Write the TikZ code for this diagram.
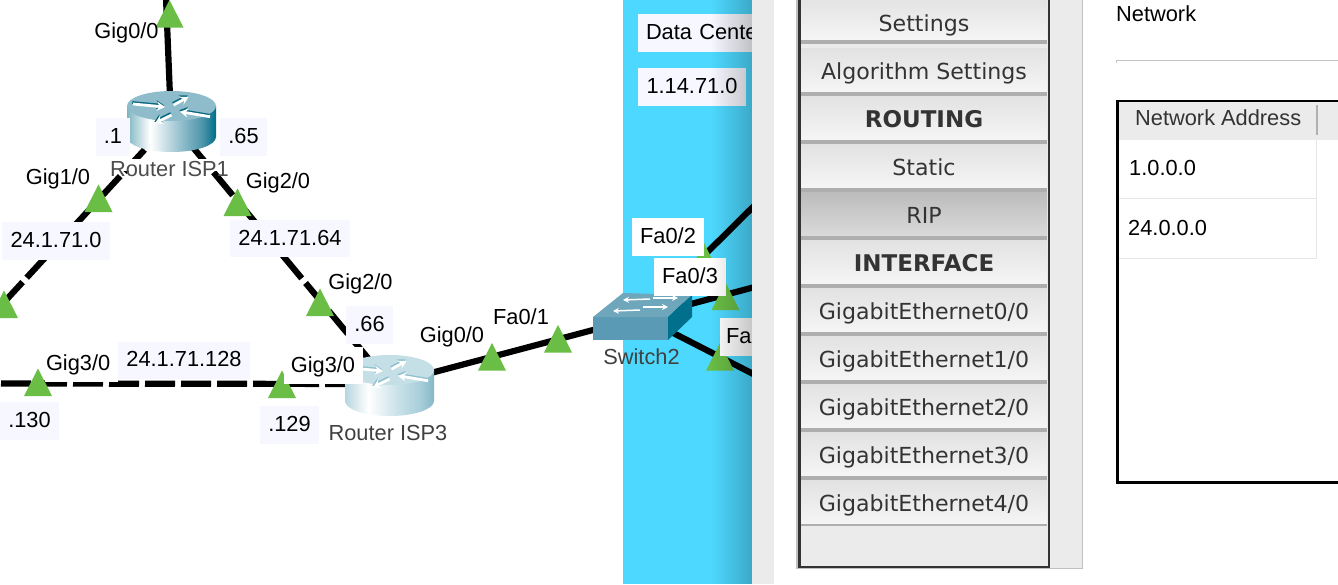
\documentclass[tikz,border=0pt]{standalone}
\usepackage{fontspec}
\setmainfont{Liberation Sans}
\newfontfamily\menufont{DejaVu Sans}
\usetikzlibrary{arrows.meta}
\definecolor{tagbg}{HTML}{F7F8FF}
\definecolor{panelblue}{HTML}{4DD9FF}
\definecolor{greentri}{HTML}{6ABD45}
\definecolor{uigray}{HTML}{EBEBEB}
\definecolor{sepgray}{HTML}{AEAEAE}
\definecolor{rtopA}{HTML}{8FBCCB}
\definecolor{rtopB}{HTML}{C5DFE7}
\definecolor{shadA}{HTML}{0B6A80}
\definecolor{shadB}{HTML}{8FC0CE}
\definecolor{aL}{HTML}{7DB5C2}
\definecolor{aM}{HTML}{4E96AB}
\definecolor{aR}{HTML}{006F88}
\definecolor{bL}{HTML}{B7D6DF}
\definecolor{bM}{HTML}{A8CFDA}
\definecolor{bR}{HTML}{85B8C6}
\definecolor{swfront}{HTML}{5A9AB4}
\definecolor{swtop}{HTML}{6EA6BB}
\definecolor{swside}{HTML}{00708C}
\definecolor{btnA}{HTML}{E2E2E2}
\definecolor{btnB}{HTML}{F5F5F5}
\definecolor{ripA}{HTML}{BCBCBC}
\definecolor{ripB}{HTML}{DADADA}
\definecolor{edgeA}{HTML}{C0C0C0}
\definecolor{edgeB}{HTML}{333333}
\definecolor{hairA}{HTML}{C4C4C4}
\definecolor{hairB}{HTML}{E6E6E6}
\definecolor{hairC}{HTML}{B0B0B0}
\pgfdeclarehorizontalshading{rsideA}{100bp}{color(0bp)=(aL);color(25bp)=(aL);color(38bp)=(white);color(56bp)=(rtopA);color(67bp)=(aM);color(75bp)=(aR);color(100bp)=(aR)}
\pgfdeclarehorizontalshading{rsideB}{100bp}{color(0bp)=(bL);color(25bp)=(bL);color(38bp)=(white);color(56bp)=(rtopB);color(67bp)=(bM);color(75bp)=(bR);color(100bp)=(bR)}
\tikzset{
  link/.style={line width=6.2pt,black},
  dashedlink/.style={link,dash pattern=on 30pt off 6pt},
  lab/.style={font=\fontsize{21.8}{24}\selectfont,inner sep=0pt,text height=15.5pt,text depth=0pt,text=black},
  devlab/.style={lab,text=black!75},
  tagbox/.style={lab,fill=tagbg,text depth=2pt},
  whitebox/.style={lab,fill=white,text depth=2pt},
  menuitem/.style={font=\menufont\fontsize{22.1}{24}\selectfont,text=black!80,inner sep=0pt,text height=17.5pt,text depth=0pt},
  menubold/.style={menuitem,font=\menufont\bfseries\fontsize{23}{24}\selectfont},
  hub/.style={inner sep=0pt,minimum width=89pt,minimum height=60pt},
  uitext/.style={font=\fontsize{21.8}{24}\selectfont,inner sep=0pt,text height=17.5pt,text depth=0pt,anchor=west},
}
\newcommand{\tri}[2]{\fill[greentri] (#1,#2) -- ++(14,27.5) -- ++(-28,0) -- cycle;}
\newcommand{\routerbody}[5]{%
  \begin{scope}[shift={(#1,#2)}]
    \shade[shading=#3] (-44.5,0) -- (-44.5,31) arc[start angle=180,end angle=0,x radius=44.5,y radius=15] -- (44.5,0) -- cycle;
    \fill[#4] (0,0) ellipse[x radius=44.5,y radius=15];
    \foreach \ax/\ay/\bx/\by in {-38.5/-2/-6.5/1, 2/-1/17/-9, 38.5/10.7/8.5/5.7, 0/9/-16.5/17.3}{
      \draw[#5,line width=2.8pt,-{Stealth[length=8pt,width=9pt]}] (\ax-.7,\ay-1.5) -- (\bx-.7,\by-1.5);
      \draw[white,line width=2.8pt,-{Stealth[length=8pt,width=9pt]}] (\ax,\ay) -- (\bx,\by);
    }
  \end{scope}}
\newcommand{\menubtn}[3]{%
  \shade[top color=#2,bottom color=#3] (801,#1) rectangle (1047,#1+44);
  \fill[sepgray] (801,#1+44) rectangle (1047,#1+48);
  }
\begin{document}
\begin{tikzpicture}[x=1pt,y=-1pt]
\useasboundingbox (0,0) rectangle (1338,584);
\clip (0,0) rectangle (1338,584);
\fill[white] (0,0) rectangle (1338,584);
\fill[panelblue] (623,0) rectangle (752,584);
% anchors
\node[hub] (isp1) at (171,121) {};
\node[hub] (isp3) at (389.5,384) {};
\node[inner sep=0pt,minimum width=99pt,minimum height=47pt] (sw2) at (642,317) {};
\coordinate (top) at (166,-2);
\coordinate (leftdiag) at (-4,311);
\coordinate (lefthor) at (-4,383.5);
\coordinate (sa) at (766,194);
\coordinate (sb) at (766,284);
\coordinate (sc) at (766,380.5);
% links
\draw[link] (isp1.center) -- (top);
\draw[dashedlink,dash phase=33pt] (isp1.center) -- (leftdiag);
\draw[dashedlink,dash phase=5.4pt] (isp1.center) -- (isp3.center);
\draw[dashedlink,dash phase=1.5pt] (isp3.center) -- (lefthor);
\draw[link] (isp3.center) -- (sw2.center);
\draw[link] (sw2.center) -- (sa);
\draw[link] (sw2.center) -- (sb);
\draw[link] (sw2.center) -- (sc);
% port triangles
\tri{169.5}{0}\tri{98.5}{184.5}\tri{237.5}{188.5}\tri{320}{288.5}\tri{4}{290.5}
\tri{38}{368.5}\tri{282}{370.5}\tri{492}{343}\tri{558}{325}\tri{704}{243}\tri{725.5}{282.5}\tri{720}{343}
% devices
\routerbody{171.5}{106}{rsideA}{rtopA}{shadA}
\routerbody{389.5}{370}{rsideB}{rtopB}{shadB}
\fill[swfront] (593,317) rectangle (668,340);
\fill[swtop] (593,317) -- (623,293) -- (692,295) -- (668,317) -- cycle;
\fill[swside] (668,317) -- (692,295) -- (692,317) -- (668,340) -- cycle;
\foreach \ax/\ay/\bx/\by in {650/299/623/300, 653/298/678/298, 640/310/613/311, 643/307/668/307}{
  \draw[white,line width=1.5pt,-{Stealth[length=6pt,width=6pt]}] (\ax,\ay) -- (\bx,\by);
}
% labels
\node[lab] (g00a) at (126.5,31) {Gig0/0};
\fill[white] (110,159) rectangle (228,171);
\node[lab,text=black!70] (risp1) at (169.5,168.5) {Router ISP1};
\node[lab] (g10) at (58,177) {Gig1/0};
\node[lab] (g20a) at (278,181) {Gig2/0};
\node[tagbox,minimum width=34pt,minimum height=38pt] (t1) at (113,137) {.1};
\node[tagbox,minimum width=47pt,minimum height=38pt] (t65) at (243.5,137) {.65};
\node[tagbox,minimum width=108pt,minimum height=38pt] (n0) at (56,241) {24.1.71.0};
\node[tagbox,minimum width=120pt,minimum height=37pt] (n64) at (290,238.5) {24.1.71.64};
\node[lab] (g20b) at (360.5,282) {Gig2/0};
\node[tagbox,minimum width=47pt,minimum height=38pt] (t66) at (369.5,325) {.66};
\node[lab,fill=white,minimum height=37pt,minimum width=73pt,text width=71pt,align=left,text depth=2pt] (g30a) at (81.5,363.5) {Gig3/0};
\node[whitebox,minimum width=79pt,minimum height=37pt] (g30b) at (323,365.5) {Gig3/0};
\node[tagbox,minimum width=132pt,minimum height=37pt] (n128) at (184,360) {24.1.71.128};
\node[tagbox,minimum width=59pt,minimum height=38pt] (t130) at (29.5,421) {.130};
\node[tagbox,minimum width=59pt,minimum height=38pt] (t129) at (289.5,425) {.129};
\node[devlab] (risp3) at (388,432.5) {Router ISP3};
\node[lab] (g00b) at (452,335) {Gig0/0};
\node[lab] (fa01) at (521,317) {Fa0/1};
\node[devlab] (sw2lab) at (641.5,356.5) {Switch2};
\node[whitebox,minimum width=72pt,minimum height=38pt] (fa02) at (668,237) {Fa0/2};
\node[whitebox,minimum width=72pt,minimum height=38pt] (fa03) at (690,277) {Fa0/3};
\node[whitebox,minimum width=72pt,minimum height=38pt,text width=60pt,align=left] (fa04) at (756,337) {Fa0/4};
\node[tagbox,minimum width=140pt,minimum height=38pt,text width=124pt,align=left] (dc) at (708,33) {Data Center};
\node[tagbox,minimum width=108pt,minimum height=38pt] (net) at (692,87) {1.14.71.0};
% darkening toward the panel edge
\foreach \k in {1,...,20}{
  \pgfmathsetmacro{\xa}{710+2*\k}
  \pgfmathsetmacro{\op}{0.0105*\k}
  \fill[black,opacity=\op] (\xa,0) rectangle (\xa+2,584);
}
% window chrome
\fill[uigray] (752,0) rectangle (774,584);
\fill[white] (774,0) rectangle (1338,584);
\fill[edgeA] (796,0) rectangle (1082.5,568.5);
\fill[uigray] (797.5,0) rectangle (1081.5,567.5);
\fill[edgeB] (797.5,0) rectangle (1050,567.5);
\fill[uigray] (800.5,0) rectangle (1048,565.5);
\menubtn{-4}{btnA}{btnB}
\menubtn{48}{btnA}{btnB}
\menubtn{96}{btnA}{btnB}
\menubtn{144}{btnA}{btnB}
\menubtn{192}{ripA}{ripB}
\menubtn{240}{btnA}{btnB}
\menubtn{288}{btnA}{btnB}
\menubtn{336}{btnA}{btnB}
\menubtn{384}{btnA}{btnB}
\menubtn{432}{btnA}{btnB}
\shade[top color=btnA,bottom color=btnB] (801,480) rectangle (1047,524);
\fill[sepgray] (801,524) rectangle (1047,526);
\node[menuitem] (m1) at (924,23) {Settings};
\node[menuitem] (m2) at (924,71) {Algorithm Settings};
\node[menubold] (m3) at (924,119) {ROUTING};
\node[menuitem] (m4) at (924,167) {Static};
\node[menuitem] (m5) at (924,215) {RIP};
\node[menubold] (m6) at (924,263) {INTERFACE};
\node[menuitem] (m7) at (924,311) {GigabitEthernet0/0};
\node[menuitem] (m8) at (924,359) {GigabitEthernet1/0};
\node[menuitem] (m9) at (924,407) {GigabitEthernet2/0};
\node[menuitem] (m10) at (924,455) {GigabitEthernet3/0};
\node[menuitem] (m11) at (924,503) {GigabitEthernet4/0};
% right pane
\node[uitext] (nw) at (1116,13) {Network};
\draw[hairA,line width=1pt] (1116.5,63) -- (1116.5,60.5) -- (1338,60.5);
\fill[uigray] (1116,100) rectangle (1340,140);
\draw[black,line width=2.5pt] (1345,101) -- (1117.5,101) -- (1117.5,482.5) -- (1345,482.5);
\fill[hairC] (1316,105) rectangle (1318,135);
\draw[hairB,line width=1pt] (1316.5,140) -- (1316.5,258.5) -- (1119,258.5);
\draw[hairB,line width=1pt] (1119,198.5) -- (1316.5,198.5);
\node[uitext,text=black!80] (hdr) at (1135,117) {Network Address};
\node[uitext] (r1) at (1129,167) {1.0.0.0};
\node[uitext] (r2) at (1128,227) {24.0.0.0};
\end{tikzpicture}
\end{document}
